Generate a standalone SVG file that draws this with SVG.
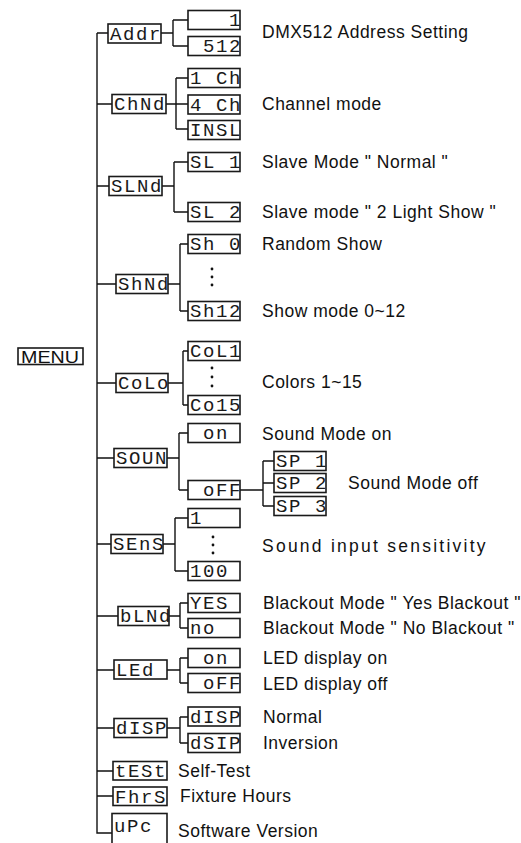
<svg xmlns="http://www.w3.org/2000/svg" width="521" height="843" viewBox="0 0 521 843">
<style>
.box{fill:#fff;stroke:#1a1a1a;stroke-width:1.6}
.seg{font-family:"Liberation Mono","DejaVu Sans Mono",monospace;font-size:19px;letter-spacing:1.6px;fill:#1a1a1a}
.lbl{font-family:"Liberation Sans",Arial,sans-serif;font-size:17.5px;letter-spacing:0.5px;fill:#111}
.menu{font-family:"Liberation Sans",Arial,sans-serif;font-size:17px;fill:#111}
.ln{fill:none;stroke:#111;stroke-width:1.4}
.dot{fill:#111}
</style>
<rect width="521" height="843" fill="#fff"/>
<g id="connectors" class="ln">
<path d="M97,33 V833 H112"/>
<path d="M97,33 H108 M97,104 H112 M97,186 H109 M97,284 H116 M97,383 H116 M97,458 H114 M97,544 H111 M97,616 H118 M97,670 H114 M97,728 H114 M97,771 H113 M97,796 H113"/>
<path d="M161,33 H173 M173,20 V46 M173,20 H188 M173,46 H188"/>
<path d="M166,104 H188 M176,78 V129 M176,78 H188 M176,129 H188"/>
<path d="M162,186 H174 M174,162 V212 M174,162 H188 M174,212 H188"/>
<path d="M168,284 H180 M180,244 V311 M180,244 H188 M180,311 H188"/>
<path d="M168,383 H183 M183,351 V405 M183,351 H188 M183,405 H188"/>
<path d="M167,458 H179 M179,433 V490 M179,433 H188 M179,490 H188"/>
<path d="M240,490 H263 M263,461 V506 M263,461 H274 M263,483 H274 M263,506 H274"/>
<path d="M163,544 H175 M175,518 V571 M175,518 H188 M175,571 H188"/>
<path d="M169,616 H180 M180,603 V628 M180,603 H188 M180,628 H188"/>
<path d="M167,670 H180 M180,658 V683 M180,658 H188 M180,683 H188"/>
<path d="M167,728 H180 M180,717 V743 M180,717 H188 M180,743 H188"/>
</g>
<g id="menu"><rect class="box" x="18" y="348" width="65" height="16.5"/><text class="menu" x="21" y="362.5" textLength="58" lengthAdjust="spacingAndGlyphs">MENU</text></g>

<g id="addr"><rect class="box" x="108" y="24" width="53" height="19"/><text class="seg" x="110" y="39.5" xml:space="preserve">Addr</text></g>
<g id="addr-1"><rect class="box" x="188" y="10.5" width="52" height="19"/><text class="seg" x="190" y="26" xml:space="preserve">   1</text></g>
<g id="addr-512"><rect class="box" x="188" y="36.5" width="52" height="19"/><text class="seg" x="190" y="52" xml:space="preserve"> 512</text></g>
<text class="lbl" x="262" y="38">DMX512 Address Setting</text>

<g id="chmd"><rect class="box" x="112" y="94.5" width="54" height="19"/><text class="seg" x="114" y="110" xml:space="preserve">ChNd</text></g>
<g id="ch1"><rect class="box" x="188" y="68.5" width="52" height="19"/><text class="seg" x="190" y="84" xml:space="preserve">1 Ch</text></g>
<g id="ch4"><rect class="box" x="188" y="95" width="52" height="19"/><text class="seg" x="190" y="110.5" xml:space="preserve">4 Ch</text></g>
<g id="insl"><rect class="box" x="188" y="120.5" width="52" height="19"/><text class="seg" x="190" y="136" xml:space="preserve">INSL</text></g>
<text class="lbl" x="262" y="110">Channel mode</text>

<g id="slmd"><rect class="box" x="109" y="176.5" width="53" height="19"/><text class="seg" x="111" y="192" xml:space="preserve">SLNd</text></g>
<g id="sl1"><rect class="box" x="188" y="152.5" width="52" height="19"/><text class="seg" x="190" y="168" xml:space="preserve">SL 1</text></g>
<g id="sl2"><rect class="box" x="188" y="202.5" width="52" height="19"/><text class="seg" x="190" y="218" xml:space="preserve">SL 2</text></g>
<text class="lbl" x="262" y="168">Slave Mode " Normal "</text>
<text class="lbl" x="262" y="218">Slave mode " 2 Light Show "</text>

<g id="shmd"><rect class="box" x="116" y="274.5" width="52" height="19"/><text class="seg" x="118" y="290" xml:space="preserve">ShNd</text></g>
<g id="sh0"><rect class="box" x="188" y="234.5" width="52" height="19"/><text class="seg" x="190" y="250" xml:space="preserve">Sh 0</text></g>
<g id="sh12"><rect class="box" x="188" y="301.5" width="52" height="19"/><text class="seg" x="190" y="317" xml:space="preserve">Sh12</text></g>
<circle class="dot" cx="212" cy="269" r="1.4"/><circle class="dot" cx="212" cy="277" r="1.4"/><circle class="dot" cx="212" cy="285" r="1.4"/>
<text class="lbl" x="262" y="250">Random Show</text>
<text class="lbl" x="262" y="317">Show mode 0~12</text>

<g id="colo"><rect class="box" x="116" y="373.5" width="52" height="19"/><text class="seg" x="118" y="389" xml:space="preserve">CoLo</text></g>
<g id="col1"><rect class="box" x="188" y="341.5" width="52" height="19"/><text class="seg" x="190" y="357" xml:space="preserve">CoL1</text></g>
<g id="co15"><rect class="box" x="188" y="395.5" width="52" height="19"/><text class="seg" x="190" y="411" xml:space="preserve">Co15</text></g>
<circle class="dot" cx="212" cy="368" r="1.4"/><circle class="dot" cx="212" cy="377" r="1.4"/><circle class="dot" cx="212" cy="386" r="1.4"/>
<text class="lbl" x="262" y="388">Colors 1~15</text>

<g id="soun"><rect class="box" x="114" y="448.5" width="53" height="19"/><text class="seg" x="116" y="464" xml:space="preserve">SOUN</text></g>
<g id="son"><rect class="box" x="188" y="423.5" width="52" height="19"/><text class="seg" x="190" y="439" xml:space="preserve"> on</text></g>
<g id="soff"><rect class="box" x="188" y="480.5" width="52" height="19"/><text class="seg" x="190" y="496" xml:space="preserve"> oFF</text></g>
<g id="sp1"><rect class="box" x="274" y="451.5" width="52" height="19"/><text class="seg" x="276" y="467" xml:space="preserve">SP 1</text></g>
<g id="sp2"><rect class="box" x="274" y="473.5" width="52" height="19"/><text class="seg" x="276" y="489" xml:space="preserve">SP 2</text></g>
<g id="sp3"><rect class="box" x="274" y="496.5" width="52" height="19"/><text class="seg" x="276" y="512" xml:space="preserve">SP 3</text></g>
<text class="lbl" x="262" y="440">Sound Mode on</text>
<text class="lbl" x="348" y="489">Sound Mode off</text>

<g id="sens"><rect class="box" x="111" y="534.5" width="52" height="19"/><text class="seg" x="113" y="550" xml:space="preserve">SEnS</text></g>
<g id="sens1"><rect class="box" x="188" y="508.5" width="52" height="19"/><text class="seg" x="190" y="524" xml:space="preserve">1</text></g>
<g id="sens100"><rect class="box" x="188" y="561.5" width="52" height="19"/><text class="seg" x="190" y="577" xml:space="preserve">100</text></g>
<circle class="dot" cx="213" cy="537" r="1.4"/><circle class="dot" cx="213" cy="545" r="1.4"/><circle class="dot" cx="213" cy="553" r="1.4"/>
<text class="lbl" x="262" y="552" textLength="224" lengthAdjust="spacing">Sound input sensitivity</text>

<g id="blmd"><rect class="box" x="118" y="606.5" width="51" height="19"/><text class="seg" x="120" y="622" xml:space="preserve">bLNd</text></g>
<g id="yes"><rect class="box" x="188" y="593.5" width="52" height="19"/><text class="seg" x="190" y="609" xml:space="preserve">YES</text></g>
<g id="no"><rect class="box" x="188" y="618.5" width="52" height="19"/><text class="seg" x="190" y="634" xml:space="preserve">no</text></g>
<text class="lbl" x="263" y="609">Blackout Mode " Yes Blackout "</text>
<text class="lbl" x="263" y="634">Blackout Mode " No Blackout "</text>

<g id="led"><rect class="box" x="114" y="660" width="53" height="19"/><text class="seg" x="116" y="675.5" xml:space="preserve">LEd</text></g>
<g id="ledon"><rect class="box" x="188" y="648.5" width="52" height="19"/><text class="seg" x="190" y="664" xml:space="preserve"> on</text></g>
<g id="ledoff"><rect class="box" x="188" y="673.5" width="52" height="19"/><text class="seg" x="190" y="689" xml:space="preserve"> oFF</text></g>
<text class="lbl" x="263" y="664">LED display on</text>
<text class="lbl" x="263" y="690">LED display off</text>

<g id="disp"><rect class="box" x="114" y="718.5" width="53" height="19"/><text class="seg" x="116" y="734" xml:space="preserve">dISP</text></g>
<g id="disp-n"><rect class="box" x="188" y="707" width="52" height="19"/><text class="seg" x="190" y="722.5" xml:space="preserve">dISP</text></g>
<g id="disp-i"><rect class="box" x="188" y="733.5" width="52" height="19"/><text class="seg" x="190" y="749" xml:space="preserve">dSIP</text></g>
<text class="lbl" x="263" y="723">Normal</text>
<text class="lbl" x="263" y="749">Inversion</text>

<g id="test"><rect class="box" x="113" y="761.5" width="54" height="18.5"/><text class="seg" x="115" y="777" xml:space="preserve">tESt</text></g>
<text class="lbl" x="178" y="777">Self-Test</text>
<g id="fhrs"><rect class="box" x="113" y="787" width="54" height="18.5"/><text class="seg" x="115" y="802.5" xml:space="preserve">FhrS</text></g>
<text class="lbl" x="180" y="802">Fixture Hours</text>
<g id="upc"><rect class="box" x="112" y="813.5" width="55" height="40"/><text class="seg" x="114" y="832" xml:space="preserve">uPc</text></g>
<text class="lbl" x="178" y="837">Software Version</text>
</svg>
